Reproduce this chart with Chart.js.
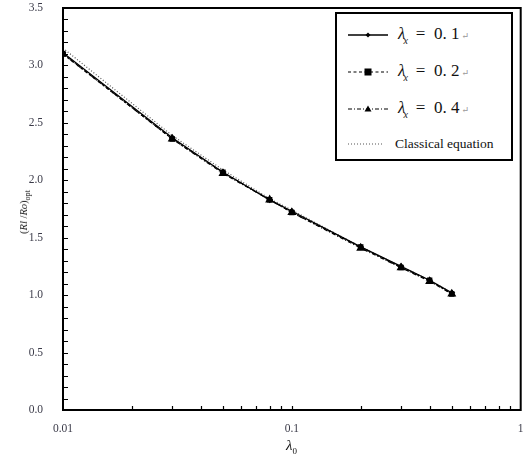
<!DOCTYPE html>
<html>
<head>
<meta charset="utf-8">
<script src="https://cdn.jsdelivr.net/npm/chart.js@4/dist/chart.umd.min.js"></script>
<style>
  html,body{margin:0;padding:0;background:#fff;}
  #wrap{position:relative;width:526px;height:459px;font-family:"Times New Roman","Liberation Serif","DejaVu Serif",serif;}
  #c{position:absolute;left:0;top:0;}
  #legend{position:absolute;left:335px;top:12px;width:174px;height:145px;border:2px solid #000;background:#fff;}
  .row{position:absolute;left:0;height:24px;width:174px;}
  .row svg{position:absolute;left:11px;top:0;}
  .lab{position:absolute;left:61px;top:1px;font-size:17px;white-space:nowrap;color:#111;}
  .lab i{font-style:italic;}
  .lab sub{font-size:10px;font-style:italic;vertical-align:-5px;margin-left:-2px;}
  .lab .eq{margin-left:8px;}
  .lab .rt{font-size:9px;color:#999;margin-left:2px;}
  .cls{position:absolute;left:58px;top:4px;font-size:13.5px;color:#111;white-space:nowrap;}
  #ytitle{position:absolute;left:25px;top:212px;transform:translate(-50%,-50%) rotate(-90deg);font-size:10.5px;white-space:nowrap;color:#111;}
  #ytitle i{font-style:italic;}
  #ytitle sub{font-size:8px;vertical-align:-3px;}
  #xtitle{position:absolute;left:286px;top:437px;font-size:15px;color:#111;white-space:nowrap;}
  #xtitle sub{font-size:9px;vertical-align:-4px;}
</style>
</head>
<body>
<div id="wrap">
<canvas id="c" width="526" height="459"></canvas>
<div id="ytitle">(<i>Rl</i> /<i>Ro</i>)<sub>opt</sub></div>
<div id="xtitle"><i>λ</i><sub>0</sub></div>
<div id="legend">
  <div class="row" style="top:9px">
    <svg width="42" height="24"><line x1="0" y1="12" x2="40" y2="12" stroke="#000" stroke-width="1.3"/><path d="M20 9.5 L22.5 12 L20 14.5 L17.5 12 Z" fill="#000"/></svg>
    <div class="lab"><i>λ</i><sub>x</sub><span class="eq">=&nbsp; 0.&nbsp;1</span><span class="rt">↵</span></div>
  </div>
  <div class="row" style="top:46px">
    <svg width="42" height="24"><line x1="0" y1="12" x2="40" y2="12" stroke="#000" stroke-width="1.2" stroke-dasharray="3,2.5"/><rect x="16.5" y="8.5" width="7" height="7" fill="#000"/></svg>
    <div class="lab"><i>λ</i><sub>x</sub><span class="eq">=&nbsp; 0.&nbsp;2</span><span class="rt">↵</span></div>
  </div>
  <div class="row" style="top:83px">
    <svg width="42" height="24"><line x1="0" y1="12" x2="40" y2="12" stroke="#000" stroke-width="1.2" stroke-dasharray="4,2,1,2"/><path d="M20 8.5 L23.5 14.5 L16.5 14.5 Z" fill="#000"/></svg>
    <div class="lab"><i>λ</i><sub>x</sub><span class="eq">=&nbsp; 0.&nbsp;4</span><span class="rt">↵</span></div>
  </div>
  <div class="row" style="top:118px">
    <svg width="42" height="24"><line x1="0" y1="12" x2="36" y2="12" stroke="#555" stroke-width="1.2" stroke-dasharray="1,2"/></svg>
    <div class="cls">Classical equation</div>
  </div>
</div>
</div>
<script>
// data
const lambda0   = [0.01, 0.03, 0.05, 0.08, 0.1, 0.2, 0.3, 0.4, 0.5];
const lx01      = [3.11, 2.37, 2.07, 1.83, 1.73, 1.42, 1.25, 1.13, 1.02];
const lx02      = [3.10, 2.36, 2.07, 1.83, 1.72, 1.42, 1.24, 1.13, 1.01];
const lx04      = [3.10, 2.36, 2.06, 1.83, 1.72, 1.41, 1.24, 1.12, 1.01];
const classical = [3.15, 2.39, 2.09, 1.84, 1.74, 1.42, 1.25, 1.13, 1.02];
const xTicks    = [0.01, 0.1, 1];
const xTickLbl  = ['0.01', '0.1', '1'];

const pts=arr=>arr.map((v,i)=>({x:lambda0[i],y:v}));

// inward ticks + frame
const frame={
  id:'frame',
  afterDraw(chart){
    const {ctx,chartArea:a,scales:{x,y}}=chart;
    ctx.save();
    ctx.strokeStyle='#000'; ctx.lineWidth=1.2;
    ctx.beginPath();
    for(let i=1;i<35;i++){
      const py=Math.round(y.getPixelForValue(i/10))+0.5;
      ctx.moveTo(a.left,py); ctx.lineTo(a.left+5,py);
    }
    for(const d of [0.01,0.1]){
      for(let k=2;k<=10;k++){
        const px=Math.round(x.getPixelForValue(k*d))+0.5;
        if(px>=a.right-1) continue;
        ctx.moveTo(px,a.bottom); ctx.lineTo(px,a.bottom-4);
      }
    }
    ctx.stroke();
    ctx.lineWidth=2;
    ctx.strokeRect(a.left,a.top,a.right-a.left,a.bottom-a.top);
    ctx.restore();
  }
};

const tickFont={family:"'Times New Roman', 'Liberation Serif', serif",size:11.5};
const tickColor='#3a3a48';

new Chart(document.getElementById('c'),{
  type:'line',
  data:{datasets:[
    {label:'λx = 0.1',data:pts(lx01),borderColor:'#000',backgroundColor:'#000',borderWidth:1.3,pointStyle:'rectRot',pointRadius:2.5,order:3},
    {label:'λx = 0.2',data:pts(lx02),borderColor:'#000',backgroundColor:'#000',borderWidth:1.2,borderDash:[3,2.5],pointStyle:'rect',pointRadius:3,order:2},
    {label:'λx = 0.4',data:pts(lx04),borderColor:'#000',backgroundColor:'#000',borderWidth:1.2,borderDash:[4,2,1,2],pointStyle:'triangle',pointRadius:4,order:1},
    {label:'Classical equation',data:pts(classical),borderColor:'#555',borderWidth:1.2,borderDash:[1,2],pointRadius:0,order:4}
  ]},
  options:{
    responsive:false,animation:false,
    layout:{padding:{top:8,right:4,left:0,bottom:0}},
    plugins:{legend:{display:false},tooltip:{enabled:false}},
    scales:{
      x:{type:'logarithmic',min:0.01,max:1,
        grid:{display:false},border:{display:false},
        afterBuildTicks:s=>{s.ticks=xTicks.map(v=>({value:v}));},
        afterFit:s=>{s.height=49;s.paddingLeft=0;s.paddingRight=0;},
        ticks:{font:tickFont,color:tickColor,padding:4,maxRotation:0,autoSkip:false,
          callback:(v)=>{const i=xTicks.indexOf(v);return i>=0?xTickLbl[i]:'';}}
      },
      y:{min:0,max:3.5,
        grid:{display:false},border:{display:false},
        afterFit:s=>{s.width=63;s.paddingTop=0;s.paddingBottom=0;},
        ticks:{stepSize:0.5,font:tickFont,color:tickColor,padding:12,callback:v=>v.toFixed(1)}
      }
    }
  },
  plugins:[frame]
});
</script>
</body>
</html>
